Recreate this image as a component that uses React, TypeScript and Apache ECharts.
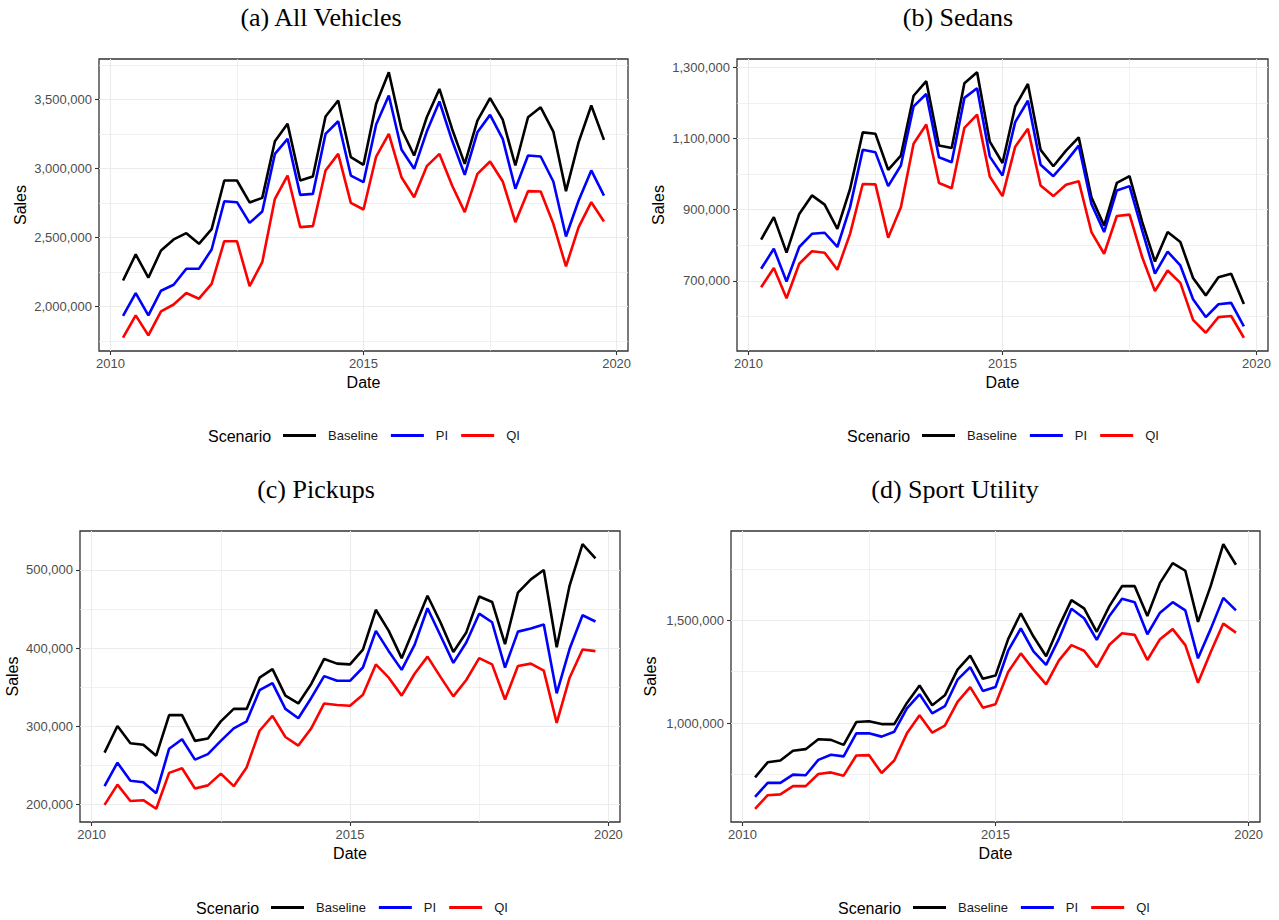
import React, { useEffect, useRef } from "react";
import * as echarts from "echarts";

// Quarterly dates (decimal years)
const dates = [
  2010.25, 2010.5, 2010.75, 2011, 2011.25, 2011.5, 2011.75, 2012, 2012.25, 2012.5,
  2012.75, 2013, 2013.25, 2013.5, 2013.75, 2014, 2014.25, 2014.5, 2014.75, 2015,
  2015.25, 2015.5, 2015.75, 2016, 2016.25, 2016.5, 2016.75, 2017, 2017.25, 2017.5,
  2017.75, 2018, 2018.25, 2018.5, 2018.75, 2019, 2019.25, 2019.5, 2019.75,
];

// Values in thousands of units
const allBaseline = [2188, 2377, 2208, 2406, 2486, 2531, 2454, 2560, 2913, 2913, 2754, 2787, 3198, 3324, 2913, 2942, 3377, 3493, 3082, 3027, 3469, 3698, 3287, 3094, 3372, 3577, 3287, 3034, 3348, 3510, 3355, 3022, 3372, 3444, 3268, 2836, 3191, 3457, 3208];
const allPI = [1932, 2097, 1935, 2114, 2157, 2273, 2273, 2413, 2763, 2756, 2606, 2688, 3106, 3215, 2809, 2816, 3251, 3343, 2949, 2901, 3319, 3529, 3138, 2998, 3268, 3486, 3203, 2954, 3263, 3389, 3215, 2853, 3094, 3087, 2906, 2507, 2768, 2986, 2804];
const allQI = [1773, 1935, 1790, 1964, 2014, 2097, 2056, 2164, 2473, 2473, 2147, 2321, 2780, 2949, 2575, 2582, 2986, 3106, 2751, 2703, 3087, 3251, 2937, 2792, 3017, 3106, 2877, 2684, 2961, 3051, 2906, 2611, 2836, 2833, 2599, 2290, 2575, 2756, 2616];

const sedanBaseline = [816, 879, 779, 888, 940, 914, 846, 958, 1117, 1113, 1012, 1052, 1220, 1261, 1080, 1073, 1255, 1286, 1091, 1031, 1190, 1253, 1068, 1022, 1066, 1103, 935, 855, 975, 994, 865, 754, 837, 809, 708, 659, 710, 720, 635];
const sedanPI = [734, 790, 698, 795, 832, 835, 795, 907, 1068, 1061, 966, 1024, 1190, 1225, 1047, 1033, 1214, 1241, 1049, 996, 1146, 1206, 1026, 994, 1035, 1080, 916, 837, 954, 966, 841, 720, 782, 743, 648, 598, 634, 638, 572];
const sedanQI = [682, 736, 651, 748, 783, 779, 731, 832, 972, 971, 821, 907, 1085, 1139, 975, 960, 1130, 1167, 993, 938, 1077, 1127, 968, 938, 970, 980, 837, 776, 882, 886, 766, 671, 729, 694, 590, 554, 598, 601, 540];

const pickupBaseline = [266, 300, 278, 276, 262, 314, 314, 281, 284, 306, 322, 322, 362, 373, 339, 329, 354, 386, 380, 379, 398, 449, 422, 387, 427, 467, 433, 395, 420, 466, 459, 405, 471, 488, 500, 401, 480, 533, 515];
const pickupPI = [223, 253, 230, 228, 214, 271, 283, 257, 264, 281, 297, 306, 346, 355, 322, 310, 336, 364, 358, 358, 375, 422, 396, 372, 404, 451, 416, 381, 407, 444, 433, 375, 421, 425, 430, 342, 399, 442, 434];
const pickupQI = [199, 225, 204, 205, 194, 240, 246, 220, 224, 239, 223, 247, 294, 313, 286, 275, 297, 329, 327, 326, 340, 379, 362, 339, 367, 389, 363, 338, 359, 387, 379, 334, 377, 380, 371, 304, 362, 398, 396];

const suvBaseline = [736, 809, 818, 865, 873, 921, 918, 894, 1005, 1009, 995, 995, 1098, 1183, 1087, 1135, 1260, 1328, 1215, 1231, 1408, 1534, 1421, 1325, 1468, 1598, 1558, 1444, 1569, 1666, 1666, 1521, 1682, 1778, 1741, 1492, 1666, 1870, 1770];
const suvPI = [641, 709, 709, 749, 746, 821, 846, 838, 950, 950, 934, 958, 1071, 1140, 1047, 1082, 1211, 1272, 1156, 1175, 1352, 1460, 1349, 1283, 1408, 1556, 1510, 1405, 1521, 1605, 1588, 1432, 1537, 1588, 1548, 1315, 1457, 1609, 1548];
const suvQI = [583, 649, 653, 693, 693, 752, 760, 744, 842, 844, 757, 818, 950, 1038, 953, 987, 1103, 1175, 1075, 1092, 1248, 1339, 1260, 1188, 1304, 1379, 1352, 1272, 1381, 1437, 1429, 1307, 1408, 1457, 1379, 1196, 1344, 1484, 1440];

const UNIT = 1000;

// Tick values
const xMajorTicks = [2010, 2015, 2020];
const xMinorTicks = [2012.5, 2017.5];

const allMajor = [2000000, 2500000, 3000000, 3500000];
const allMinor = [1750000, 2250000, 2750000, 3250000, 3750000];
const sedanMajor = [700000, 900000, 1100000, 1300000];
const sedanMinor = [600000, 800000, 1000000, 1200000];
const pickupMajor = [200000, 300000, 400000, 500000];
const pickupMinor = [250000, 350000, 450000];
const suvMajor = [1000000, 1500000];
const suvMinor = [750000, 1250000, 1750000];

const titles = ["(a) All Vehicles", "(b) Sedans", "(c) Pickups", "(d) Sport Utility"];
const scenarioNames = ["Baseline", "PI", "QI"];
const scenarioColors = ["#000000", "#0000FF", "#FF0000"];

const panelData = [
  [allBaseline, allPI, allQI],
  [sedanBaseline, sedanPI, sedanQI],
  [pickupBaseline, pickupPI, pickupQI],
  [suvBaseline, suvPI, suvQI],
];
const panelMajor = [allMajor, sedanMajor, pickupMajor, suvMajor];
const panelMinor = [allMinor, sedanMinor, pickupMinor, suvMinor];

// Layout (pixels)
const gridRects = [
  { left: 99, top: 59, width: 529, height: 292 },
  { left: 737, top: 59, width: 531, height: 292 },
  { left: 80, top: 531, width: 540, height: 291 },
  { left: 731, top: 531, width: 529, height: 291 },
];
const yNameGaps = [71, 71, 60, 73];
const titlePos = [
  { x: 321, y: 17 },
  { x: 958, y: 17 },
  { x: 316, y: 489 },
  { x: 955, y: 489 },
];
const legendPos = [
  { scenarioX: 208, lineX: 283, y: 437 },
  { scenarioX: 847, lineX: 922, y: 437 },
  { scenarioX: 196, lineX: 271, y: 909 },
  { scenarioX: 838, lineX: 913, y: 909 },
];

const SANS = "'Liberation Sans', Arial, Helvetica, sans-serif";
const SERIF = "'Liberation Serif', 'Times New Roman', serif";

function expandRange(values: number[], mult = 0.05): [number, number] {
  const lo = Math.min(...values);
  const hi = Math.max(...values);
  const pad = (hi - lo) * mult;
  return [lo - pad, hi + pad];
}

export default function App() {
  const ref = useRef<HTMLDivElement>(null);

  useEffect(() => {
    if (!ref.current) return;
    const chart = echarts.init(ref.current, undefined, { renderer: "svg" });

    const [xMin, xMax] = expandRange(dates);

    const grid: any[] = [];
    const xAxis: any[] = [];
    const yAxis: any[] = [];
    const series: any[] = [];
    const legend: any[] = [];
    const graphic: any[] = [];

    panelData.forEach((sets, i) => {
      const all = ([] as number[]).concat(...sets).map((v) => v * UNIT);
      const [yMin, yMax] = expandRange(all);
      grid.push({
        ...gridRects[i],
        show: true,
        borderColor: "#333333",
        borderWidth: 1.3,
        backgroundColor: "#ffffff",
        containLabel: false,
      });
      // major x axis
      xAxis.push({
        type: "value",
        gridIndex: i,
        min: xMin,
        max: xMax,
        name: "Date",
        nameLocation: "middle",
        nameGap: 23,
        nameTextStyle: { fontSize: 16, color: "#000000", fontFamily: SANS },
        axisLine: { show: false },
        axisTick: { show: true, length: 4, lineStyle: { color: "#333333", width: 1.1 }, customValues: xMajorTicks },
        axisLabel: {
          customValues: xMajorTicks,
          color: "#4D4D4D",
          fontSize: 13,
          fontFamily: SANS,
          margin: 6,
          formatter: (v: number) => String(Math.round(v)),
        },
        splitLine: { show: true, lineStyle: { color: "#EBEBEB", width: 1.1 } },
        z: 1,
      });
      // minor x axis (grid lines only)
      xAxis.push({
        type: "value",
        gridIndex: i,
        min: xMin,
        max: xMax,
        position: "top",
        axisLine: { show: false },
        axisTick: { show: false, customValues: xMinorTicks },
        axisLabel: { show: false, customValues: xMinorTicks },
        splitLine: { show: true, lineStyle: { color: "#EBEBEB", width: 0.7 } },
        z: 1,
      });
      yAxis.push({
        type: "value",
        gridIndex: i,
        min: yMin,
        max: yMax,
        name: "Sales",
        nameLocation: "middle",
        nameGap: yNameGaps[i],
        nameRotate: 90,
        nameTextStyle: { fontSize: 16, color: "#000000", fontFamily: SANS },
        axisLine: { show: false },
        axisTick: { show: true, length: 4, lineStyle: { color: "#333333", width: 1.1 }, customValues: panelMajor[i] },
        axisLabel: {
          customValues: panelMajor[i],
          color: "#4D4D4D",
          fontSize: 13,
          fontFamily: SANS,
          margin: 7,
          formatter: (v: number) => Math.round(v).toLocaleString("en-US"),
        },
        splitLine: { show: true, lineStyle: { color: "#EBEBEB", width: 1.1 } },
        z: 1,
      });
      yAxis.push({
        type: "value",
        gridIndex: i,
        min: yMin,
        max: yMax,
        position: "right",
        axisLine: { show: false },
        axisTick: { show: false, customValues: panelMinor[i] },
        axisLabel: { show: false, customValues: panelMinor[i] },
        splitLine: { show: true, lineStyle: { color: "#EBEBEB", width: 0.7 } },
        z: 1,
      });

      sets.forEach((vals, s) => {
        series.push({
          type: "line",
          name: scenarioNames[s],
          xAxisIndex: 2 * i,
          yAxisIndex: 2 * i,
          data: dates.map((d, k) => [d, vals[k] * UNIT]),
          showSymbol: false,
          symbol: "none",
          lineStyle: { width: 2.6, color: scenarioColors[s] },
          itemStyle: { color: scenarioColors[s] },
          z: 3,
        });
      });

      legend.push({
        left: legendPos[i].lineX,
        top: legendPos[i].y - 8,
        padding: 0,
        orient: "horizontal",
        icon: "rect",
        itemWidth: 33,
        itemHeight: 3,
        itemGap: 13,
        selectedMode: false,
        data: scenarioNames,
        textStyle: { fontSize: 13, color: "#1A1A1A", fontFamily: SANS, padding: [0, 0, 0, 7] },
      });

      graphic.push({
        type: "text",
        left: legendPos[i].scenarioX,
        top: legendPos[i].y - 9,
        style: { text: "Scenario", fontSize: 16, fill: "#000000", fontFamily: SANS },
      });
      graphic.push({
        type: "text",
        x: titlePos[i].x,
        y: titlePos[i].y,
        style: {
          text: titles[i],
          fontSize: 26,
          fill: "#000000",
          fontFamily: SERIF,
          align: "center",
          verticalAlign: "middle",
        },
      });
    });

    chart.setOption({
      animation: false,
      backgroundColor: "#ffffff",
      grid,
      xAxis,
      yAxis,
      series,
      legend,
      graphic,
    });

    return () => {
      chart.dispose();
    };
  }, []);

  return (
    <div
      ref={ref}
      style={{ position: "fixed", left: 0, top: 0, width: 1279, height: 920, background: "#ffffff" }}
    />
  );
}
